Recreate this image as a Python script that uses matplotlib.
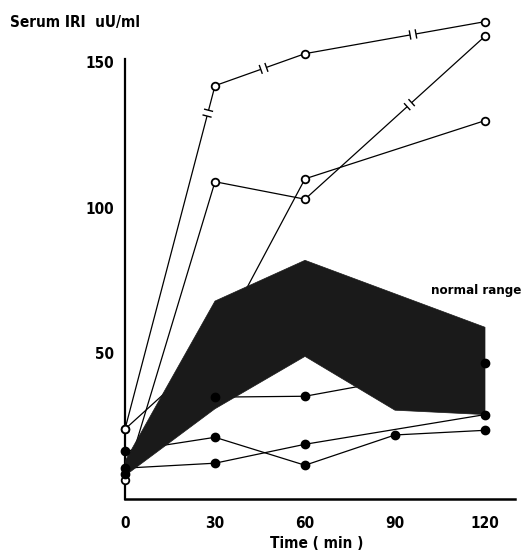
import numpy as np
import matplotlib.pyplot as plt
from matplotlib import font_manager

# --- data ---
minutes = [0, 30, 60, 120]

# open circles (patients)
open_a = [24, 142, 153, 164]
open_c = [6.5, 109, 103, 159]
open_d = [24, 52, 110, 130]

# filled circles (patients)
filled_1_x = [0, 30, 60, 120]
filled_1 = [8.6, 35, 35.3, 46.6]
filled_2_x = [0, 30, 60, 90, 120]
filled_2 = [16.4, 21.2, 11.6, 22, 23.6]
filled_3_x = [0, 30, 60, 120]
filled_3 = [10.6, 12.3, 18.8, 29]

# normal range band
band_upper_x = [0, 30, 60, 120]
band_upper = [13, 68, 82, 59]
band_lower_x = [0, 30, 60, 90, 120]
band_lower = [8, 31, 49, 30.5, 29]

# scale breaks: (series, segment index, fraction along segment)
breaks = [("a", 0, 0.92), ("a", 1, 0.54), ("a", 2, 0.60), ("c", 2, 0.58)]

installed = {f.name for f in font_manager.fontManager.ttflist}
FONT = [f for f in ["Liberation Sans Narrow", "DejaVu Sans"] if f in installed]


def add_break(ax, p0, p1, t, gap=3.0, tick=4.0):
    """Draw a '-| |-' scale break on the segment p0-p1 (sizes in pixels)."""
    d0 = ax.transData.transform(p0)
    d1 = ax.transData.transform(p1)
    u = (d1 - d0) / np.hypot(*(d1 - d0))
    n = np.array([-u[1], u[0]])
    c = d0 + t * (d1 - d0)
    inv = ax.transData.inverted()
    a, b = inv.transform(c - u * gap), inv.transform(c + u * gap)
    ax.plot([a[0], b[0]], [a[1], b[1]], color="white", lw=3, zorder=5,
            solid_capstyle="butt")
    for s in (-1, 1):
        m = c + s * u * gap
        q0, q1 = inv.transform(m - n * tick), inv.transform(m + n * tick)
        ax.plot([q0[0], q1[0]], [q0[1], q1[1]], color="black", lw=1.0, zorder=6)


def txt_kw(size):
    return dict(family=FONT, weight="bold", fontsize=size, stretch="condensed")


def main():
    fig = plt.figure(figsize=(5.22, 5.51), dpi=100)
    ax = fig.add_axes([125 / 522, 52 / 551, 390 / 522, 489 / 551])
    ax.set_xlim(0, 130)
    ax.set_ylim(0, 168)

    # normal range
    xs = np.array(band_upper_x + band_lower_x[::-1], dtype=float)
    ys = np.array(band_upper + band_lower[::-1], dtype=float)
    ax.fill(xs, ys, facecolor="#1a1a1a", edgecolor="#1a1a1a", lw=0.5, zorder=3)

    line_kw = dict(color="black", lw=0.9, zorder=2)
    series_open = {"a": open_a, "c": open_c, "d": open_d}
    for key, ys_ in series_open.items():
        ax.plot(minutes, ys_, **line_kw)
        ax.plot(minutes, ys_, ls="none", marker="o", ms=5.5, mfc="white",
                mec="black", mew=1.3, zorder=2.5 if key == "d" else 7,
                clip_on=False)
    for xs_, ys_ in [(filled_1_x, filled_1), (filled_2_x, filled_2),
                     (filled_3_x, filled_3)]:
        ax.plot(xs_, ys_, **line_kw)
        ax.plot(xs_, ys_, ls="none", marker="o", ms=6, color="black",
                zorder=7, clip_on=False)

    for key, i, t in breaks:
        ys_ = series_open[key]
        add_break(ax, (minutes[i], ys_[i]), (minutes[i + 1], ys_[i + 1]), t)

    # axes
    for side in ("top", "right"):
        ax.spines[side].set_visible(False)
    ax.spines["left"].set_linewidth(1.6)
    ax.spines["bottom"].set_linewidth(1.8)
    ax.spines["left"].set_bounds(0, 151)
    ax.set_xticks([0, 30, 60, 90, 120])
    ax.set_yticks([50, 100, 150])
    ax.tick_params(length=0, labelsize=11)
    ax.tick_params(axis="x", pad=12)
    ax.tick_params(axis="y", pad=8)
    for lab in ax.get_xticklabels() + ax.get_yticklabels():
        lab.set_family(FONT)
        lab.set_weight("bold")
        lab.set_stretch("condensed")

    fig.text(10 / 522, 1 - 22 / 551, "Serum IRI  uU/ml", va="center",
             ha="left", **txt_kw(11))
    fig.text(317 / 522, 1 - 544 / 551, "Time ( min )", va="center",
             ha="center", **txt_kw(11))
    ax.text(102, 71.5, "normal range", va="center", ha="left", **txt_kw(9.5))

    fig.savefig("out.png", dpi=100)


if __name__ == "__main__":
    main()
